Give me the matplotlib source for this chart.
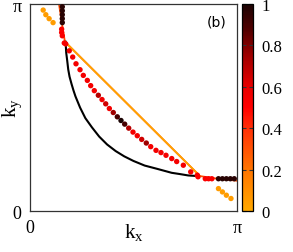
"""Fermi-surface style chart with coloured weight dots, panel (b)."""

import numpy as np
import matplotlib
import matplotlib.pyplot as plt
from matplotlib.colors import LinearSegmentedColormap

matplotlib.use("Agg")
plt.rcParams["font.family"] = ["Liberation Serif", "DejaVu Serif"]
plt.rcParams["mathtext.fontset"] = "custom"
plt.rcParams["mathtext.rm"] = "Liberation Serif"
plt.rcParams["mathtext.it"] = "Liberation Serif:italic"

PI = np.pi

# black reference curve
black_kx = [0.54, 0.545, 0.55, 0.565, 0.58, 0.60, 0.63, 0.66, 0.69, 0.76, 0.84, 0.94,
            1.05, 1.17, 1.30, 1.43, 1.57, 1.74, 1.93, 2.04, 2.15, 2.28, 2.40, 2.55]
black_ky = [2.57, 2.48, 2.40, 2.28, 2.15, 2.04, 1.93, 1.83, 1.74, 1.57, 1.41, 1.27,
            1.13, 1.01, 0.91, 0.83, 0.76, 0.69, 0.64, 0.61, 0.58, 0.56, 0.54, 0.53]

# orange straight line
orange_kx = [0.53, 2.58]
orange_ky = [2.57, 0.53]

# orange-red curve (top piece, hidden middle, right piece)
ored_kx = [0.44, 0.47, 0.50, 0.53, 2.58, 2.85, 3.14]
ored_ky = [3.14, 2.95, 2.75, 2.57, 0.53, 0.49, 0.46]

# coloured dots: positions and weights
dot_kx = [0.20, 0.24, 0.29, 0.35,
          0.49, 0.49, 0.49, 0.49, 0.49,
          0.48, 0.48, 0.49, 0.52,
          0.542, 0.596, 0.648, 0.698, 0.759, 0.809, 0.870, 0.921, 0.976, 1.037,
          1.093, 1.149, 1.204, 1.264, 1.325, 1.381, 1.437, 1.498, 1.563, 1.628,
          1.695, 1.765, 1.832, 1.912, 1.988, 2.064, 2.151, 2.226, 2.327, 2.439, 2.539,
          2.55, 2.66, 2.71, 2.76,
          2.86, 2.92, 2.98, 3.04, 3.10,
          2.86, 2.92, 2.98, 3.05]
dot_ky = [3.05, 2.98, 2.92, 2.86,
          3.10, 3.04, 2.98, 2.92, 2.86,
          2.76, 2.71, 2.66, 2.55,
          2.537, 2.432, 2.337, 2.235, 2.145, 2.059, 1.983, 1.903, 1.827, 1.757,
          1.692, 1.627, 1.556, 1.495, 1.430, 1.374, 1.319, 1.258, 1.198, 1.143,
          1.087, 1.032, 0.977, 0.921, 0.887, 0.846, 0.796, 0.751, 0.695, 0.594, 0.544,
          0.52, 0.49, 0.49, 0.49,
          0.49, 0.49, 0.49, 0.49, 0.49,
          0.34, 0.29, 0.24, 0.19]
dot_w = [0.05, 0.05, 0.05, 0.05,
         0.97, 0.97, 0.97, 0.97, 0.97,
         0.52, 0.52, 0.52, 0.52,
         0.55, 0.55, 0.55, 0.55, 0.55, 0.55, 0.55, 0.55, 0.55, 0.7,
         0.55, 0.65, 0.55, 0.75, 0.9, 1.0, 0.9, 0.7, 0.55, 0.55,
         0.65, 0.75, 0.55, 0.55, 0.55, 0.55, 0.55, 0.55, 0.55, 0.55, 0.55,
         0.52, 0.52, 0.52, 0.52,
         0.97, 0.97, 0.97, 0.97, 0.97,
         0.05, 0.05, 0.05, 0.05]

cbar_ticks = [0, 0.2, 0.4, 0.6, 0.8, 1]
cbar_labels = ["0", "0.2", "0.4", "0.6", "0.8", "1"]

cmap = LinearSegmentedColormap.from_list("heat", [
    (0.0, "#ffa800"), (0.2, "#ff7400"), (0.4, "#ff3008"), (0.5, "#ff0000"),
    (0.6, "#e80000"), (0.75, "#a00000"), (0.88, "#500000"), (1.0, "#1c0404")])

fig = plt.figure(figsize=(2.93, 2.53), dpi=100)
ax = fig.add_axes([0.1024, 0.162, 0.7065, 0.818])
cax = fig.add_axes([0.826, 0.162, 0.038, 0.818])

ax.plot(ored_kx, ored_ky, color="#ff4a00", lw=1.3, zorder=2)
ax.plot(black_kx, black_ky, color="black", lw=1.5, zorder=2)
ax.plot(orange_kx, orange_ky, color="#ffa500", lw=1.3, zorder=3)
sc = ax.scatter(dot_kx, dot_ky, c=dot_w, cmap=cmap, vmin=0, vmax=1, s=15,
                linewidths=0, zorder=4)

ax.set_xlim(0, PI)
ax.set_ylim(0, PI)
ax.set_xticks([0, PI])
ax.set_xticklabels(["0", "π"], fontsize=13)
ax.set_yticks([0, PI])
ax.set_yticklabels(["0", "π"], fontsize=13)
ax.tick_params(length=0, pad=6)
for sp in ax.spines.values():
    sp.set_color("#333333")
    sp.set_linewidth(0.9)

ax.set_xlabel(r"k$_\mathrm{x}$", fontsize=15, labelpad=-11)
ax.set_ylabel(r"k$_\mathrm{y}$", fontsize=15, labelpad=-8)
ax.text(0.95, 0.915, "(b)", transform=ax.transAxes, fontsize=10,
        family=["DejaVu Sans"], ha="right", va="center")

cb = fig.colorbar(sc, cax=cax)
cb.set_ticks(cbar_ticks)
cb.set_ticklabels(cbar_labels)
cb.outline.set_linewidth(0.9)
cax.tick_params(axis="y", direction="in", length=3, width=0.8, left=True,
                right=True, labelsize=12, pad=6, color="#333333")

fig.savefig("out.png", dpi=100)
